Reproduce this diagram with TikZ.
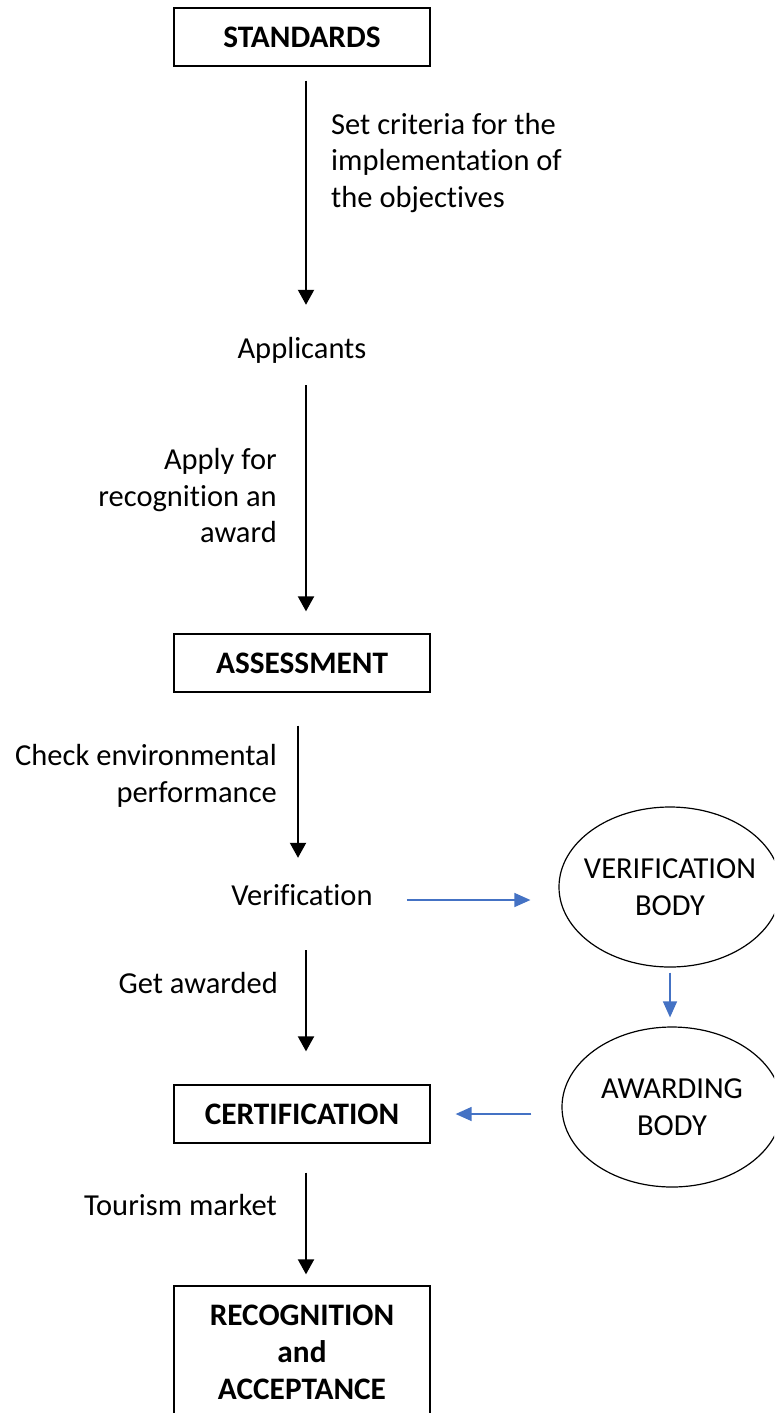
\documentclass[tikz,border=0pt]{standalone}
\usepackage{fontspec}
\setmainfont[RawFeature=-liga]{Carlito}
\usetikzlibrary{arrows.meta,shapes.geometric}
\definecolor{arrowblue}{HTML}{4472C4}
\tikzset{
  txt/.style={font=\fontsize{30.5}{36.5}\selectfont, inner sep=0pt},
  one/.style={text height=21pt, text depth=7pt},
  box/.style={txt, draw, line width=1.3pt, minimum width=256pt, minimum height=58pt, font=\fontsize{31.3}{37}\selectfont\bfseries},
  body/.style={txt, draw, ellipse, line width=1.2pt, inner xsep=-20pt, inner ysep=0pt, minimum width=222pt, minimum height=160pt, align=center},
  arr/.style={line width=2pt, -{Triangle[length=15pt,width=16pt]}},
  barr/.style={line width=1.4pt, draw=arrowblue, -{Triangle[length=16pt,width=14pt]}, arrowblue}
}
\begin{document}
\begin{tikzpicture}[x=1pt,y=-1pt]
\useasboundingbox (0,0) rectangle (774,1413);
\clip (0,0) rectangle (774,1413);
\fill[white] (0,0) rectangle (774,1413);

\node[box] (std) at (302,37) {STANDARDS};
\node[txt, one] (app) at (302,351) {Applicants};
\node[box] (ass) at (302,663) {ASSESSMENT};
\node[txt, one] (ver) at (302,898) {Verification};
\node[box] (cert) at (302,1114) {CERTIFICATION};
\node[box, align=center, minimum height=132pt] (rec) at (302,1352) {RECOGNITION\\and\\ACCEPTANCE};

\node[body] (vb) at (670,887) {VERIFICATION\\BODY};
\node[body, minimum width=220pt] (ab) at (672,1107) {AWARDING\\BODY};

\node[txt, anchor=west, align=left] (l1) at (331,163) {Set criteria for the\\implementation of\\the objectives};
\node[txt, anchor=east, align=right] (l2) at (277,496) {Apply for\\recognition an\\award};
\node[txt, anchor=east, align=right] (l3) at (277,776) {Check environmental\\performance};
\node[txt, one, anchor=east] (l4) at (278,986) {Get awarded};
\node[txt, one, anchor=east] (l5) at (277,1208) {Tourism market};

\draw[arr, shorten <=14pt, shorten >=32pt] ([xshift=4pt]std.south) -- ([xshift=4pt]app.north);
\draw[arr, shorten <=20pt, shorten >=22pt] ([xshift=4pt]app.south) -- ([xshift=4pt]ass.north);
\draw[arr, shorten <=33pt, shorten >=26pt] ([xshift=-4pt]ass.south) -- ([xshift=-4pt]ver.north);
\draw[arr, shorten <=38pt, shorten >=33pt] ([xshift=4pt]ver.south) -- ([xshift=4pt]cert.north);
\draw[arr, shorten <=29pt, shorten >=11pt] ([xshift=4pt]cert.south) -- ([xshift=4pt]rec.north);

\draw[barr, shorten <=34pt, shorten >=28pt] ([yshift=-2pt]ver.east) -- ([yshift=-2pt]ver.east -| vb.west);
\draw[barr, shorten <=5pt, shorten >=9pt] (vb.south) -- (vb.south |- ab.north);
\draw[barr, shorten <=30pt, shorten >=25pt] ([yshift=-7pt]ab.west) -- ([yshift=-7pt]ab.west -| cert.east);
\end{tikzpicture}
\end{document}
